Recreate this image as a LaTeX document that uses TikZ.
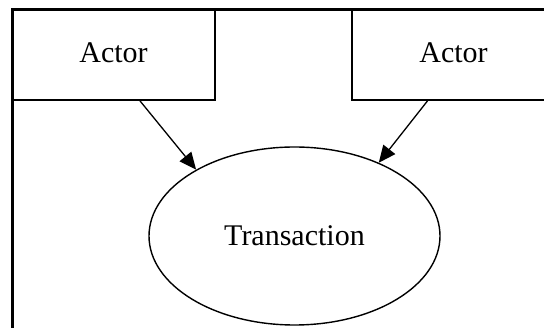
\documentclass[tikz,border=0pt]{standalone}
\usepackage{fontspec}
\setmainfont{Liberation Serif}
\usetikzlibrary{shapes.geometric,arrows.meta}
\tikzset{
  actorbox/.style={draw, line width=1.8pt, rectangle, minimum width=203pt, minimum height=90pt, inner sep=0pt, font=\fontsize{30}{36}\selectfont},
  usecase/.style={draw, line width=1.4pt, ellipse, minimum width=291pt, minimum height=178pt, inner sep=0pt, font=\fontsize{30}{36}\selectfont},
  link/.style={line width=1.3pt, -{Triangle[length=17pt,width=15pt]}},
  frameline/.style={line width=3pt}
}
\begin{document}
\begin{tikzpicture}[x=1pt,y=-1pt]
\useasboundingbox (0,0) rectangle (544,328);
\clip (0,0) rectangle (544,328);
\coordinate (fa) at (12,340);
\coordinate (fb) at (12,10);
\coordinate (fc) at (560,10);
\draw[frameline] (fa) -- (fb) -- (fc);
\node[actorbox] (a1) at (113.5,55) {\raisebox{4pt}{Actor}};
\node[actorbox] (a2) at (453.5,55) {\raisebox{4pt}{Actor}};
\node[usecase] (t) at (294.5,236) {Transaction};
\coordinate (s1) at ([xshift=26.5pt]a1.south);
\coordinate (s2) at ([xshift=-26pt]a2.south);
\draw[link] (s1) -- (t.146);
\draw[link] (s2) -- (t.41);
\end{tikzpicture}
\end{document}
